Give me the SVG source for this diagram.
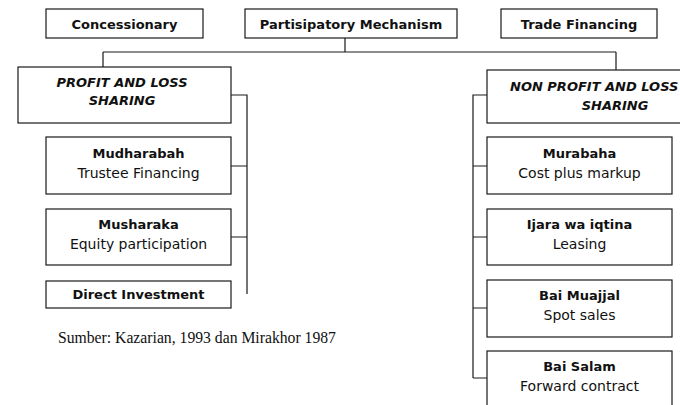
<svg xmlns="http://www.w3.org/2000/svg" width="680" height="405" viewBox="0 0 680 405">
<style>
rect{fill:#fff;stroke:#1a1a1a;stroke-width:1.2}
.c{fill:none;stroke:#1a1a1a;stroke-width:1.2}
text{font-family:"DejaVu Sans",Verdana,sans-serif;fill:#111;text-anchor:middle}
.b{font-weight:bold;font-size:13px}
.r{font-size:14px}
.i{font-weight:bold;font-style:italic;font-size:13px}
.cap{font-family:"Liberation Serif","Times New Roman",serif;font-size:15.7px;text-anchor:start}
</style>
<rect width="680" height="405" style="fill:#fff;stroke:none"/>
<g id="connectors">
<path class="c" d="M345,38V52M103,52H616M103,52V67M616,52V70"/>
<path class="c" d="M231,95H247V294M231,166H247M231,237H247"/>
<path class="c" d="M487,95H473V378M473,166H487M473,237H487M473,308H487M473,378H487"/>
</g>
<g id="concessionary"><rect x="46" y="9" width="157" height="29"/><text class="b" x="124.5" y="29">Concessionary</text></g>
<g id="partisipatory"><rect x="245" y="9" width="212" height="29"/><text class="b" x="351" y="29">Partisipatory Mechanism</text></g>
<g id="trade"><rect x="501" y="9" width="156" height="29"/><text class="b" x="579" y="29">Trade Financing</text></g>
<g id="pls"><rect x="18" y="67" width="213" height="56"/><text class="i" x="122" y="87">PROFIT AND LOSS</text><text class="i" x="122" y="105">SHARING</text></g>
<g id="npls"><rect x="487" y="70" width="210" height="53"/><text class="i" x="510" y="91" style="text-anchor:start">NON PROFIT AND LOSS</text><text class="i" x="615" y="110">SHARING</text></g>
<g id="mudharabah"><rect x="46" y="137" width="185" height="57"/><text class="b" x="138.5" y="158">Mudharabah</text><text class="r" x="138.5" y="178">Trustee Financing</text></g>
<g id="musharaka"><rect x="46" y="209" width="185" height="56"/><text class="b" x="138.5" y="229">Musharaka</text><text class="r" x="138.5" y="249">Equity participation</text></g>
<g id="direct"><rect x="46" y="281" width="185" height="27"/><text class="b" x="138.5" y="299">Direct Investment</text></g>
<g id="murabaha"><rect x="487" y="137" width="185" height="57"/><text class="b" x="579.5" y="158">Murabaha</text><text class="r" x="579.5" y="178">Cost plus markup</text></g>
<g id="ijara"><rect x="487" y="209" width="185" height="56"/><text class="b" x="579.5" y="229">Ijara wa iqtina</text><text class="r" x="579.5" y="249">Leasing</text></g>
<g id="muajjal"><rect x="487" y="280" width="185" height="57"/><text class="b" x="579.5" y="300">Bai Muajjal</text><text class="r" x="579.5" y="320">Spot sales</text></g>
<g id="salam"><rect x="487" y="351" width="185" height="70"/><text class="b" x="579.5" y="371">Bai Salam</text><text class="r" x="579.5" y="391">Forward contract</text></g>
<text class="cap" x="58" y="342.5">Sumber: Kazarian, 1993 dan Mirakhor 1987</text>
</svg>
